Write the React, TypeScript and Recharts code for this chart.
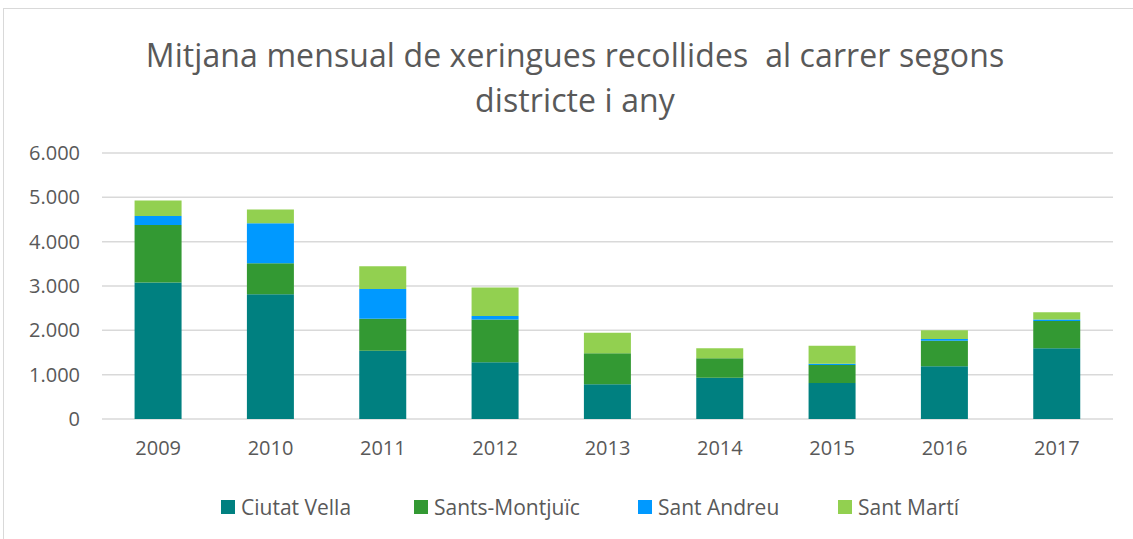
import * as React from "react"
import { Bar, BarChart, XAxis, YAxis, CartesianGrid } from "recharts"

const years = ["2009", "2010", "2011", "2012", "2013", "2014", "2015", "2016", "2017"]
const ciutatVella = [3077, 2815, 1542, 1280, 783, 932, 813, 1189, 1596]
const santsMontjuic = [1300, 700, 722, 962, 700, 438, 406, 578, 616]
const santAndreu = [203, 903, 671, 83, 0, 0, 29, 39, 30]
const santMarti = [346, 307, 512, 639, 465, 226, 407, 196, 167]
const yTicks = [0, 1000, 2000, 3000, 4000, 5000, 6000]

const series = [
    { key: "cv", name: "Ciutat Vella", color: "#008080" },
    { key: "sm", name: "Sants-Montjuïc", color: "#339933" },
    { key: "sa", name: "Sant Andreu", color: "#0099FF" },
    { key: "mt", name: "Sant Martí", color: "#92D050" },
]

const data = years.map((y, i) => ({
    year: y,
    cv: ciutatVella[i],
    sm: santsMontjuic[i],
    sa: santAndreu[i],
    mt: santMarti[i],
}))

const font = "'Open Sans', sans-serif"
const legendX = [221, 414, 638, 838]

const fmt = (v: number) => v.toLocaleString("de-DE")

export default function App() {
    return (
        <div style={{ position: "fixed", left: 0, top: 0, width: 1133, height: 539, background: "#fff", overflow: "hidden", fontFamily: font }}>
            <div style={{ position: "absolute", left: 3, top: 8, width: 1140, height: 540, border: "1px solid #d9d9d9", boxSizing: "border-box" }} />
            <div style={{ position: "absolute", left: 0, width: 1150, top: 32, textAlign: "center", color: "#595959", fontSize: 32, lineHeight: "45px", whiteSpace: "nowrap", letterSpacing: 0.1 }}>
                Mitjana mensual de xeringues recollides&nbsp; al carrer segons
                <br />
                districte i any
            </div>
            <div style={{ position: "absolute", left: 0, top: 0 }}>
                <BarChart width={1133} height={539} data={data} barCategoryGap="29%"
                    margin={{ top: 153, right: 20, left: 0, bottom: 80 }}>
                    <CartesianGrid vertical={false} stroke="#d9d9d9" strokeWidth={1.5} />
                    <XAxis dataKey="year" axisLine={false} tickLine={false} tickSize={0} tickMargin={22} height={40}
                        tick={{ fill: "#595959", fontSize: 20, fontFamily: font }} />
                    <YAxis domain={[0, 6000]} ticks={yTicks} axisLine={false} tickLine={false} tickSize={0} tickMargin={22}
                        width={102} tickFormatter={fmt} tick={{ fill: "#595959", fontSize: 20, fontFamily: font }} />
                    {series.map(s => (
                        <Bar key={s.key} dataKey={s.key} name={s.name} stackId="a" fill={s.color} isAnimationActive={false} />
                    ))}
                </BarChart>
            </div>
            {series.map((s, i) => (
                <div key={s.key} style={{ position: "absolute", left: legendX[i], top: 493, height: 28, display: "flex", alignItems: "center", color: "#595959", fontSize: 21, whiteSpace: "nowrap" }}>
                    <span style={{ width: 14, height: 14, background: s.color, marginRight: 6, display: "inline-block" }} />
                    {s.name}
                </div>
            ))}
        </div>
    )
}
